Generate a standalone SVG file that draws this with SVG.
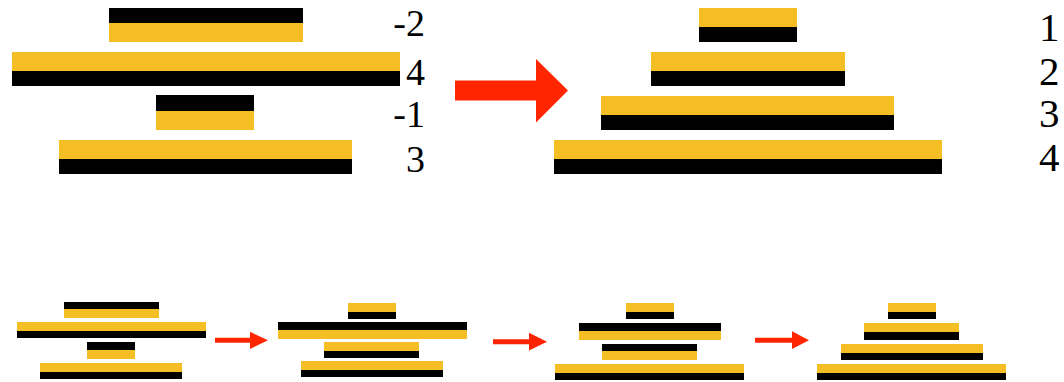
<svg xmlns="http://www.w3.org/2000/svg" width="1064" height="382" viewBox="0 0 1064 382">
  <style>
    .y { fill: #f5be24; }
    .k { fill: #000000; }
    .arrow { fill: #ff2500; }
    .l-left { font-size: 38px; text-anchor: end; }
    .l-right { font-size: 41px; text-anchor: start; }
  </style>

  <!-- Large stack: unsorted pancakes with their values -->
  <g id="stack-unsorted">
    <g id="u-bar1"><rect class="k" x="109" y="8" width="194" height="15"/><rect class="y" x="109" y="23" width="194" height="19"/></g>
    <g id="u-bar2"><rect class="y" x="12" y="52" width="388" height="19"/><rect class="k" x="12" y="71" width="388" height="15"/></g>
    <g id="u-bar3"><rect class="k" x="156" y="95" width="98" height="16"/><rect class="y" x="156" y="111" width="98" height="19"/></g>
    <g id="u-bar4"><rect class="y" x="59" y="140" width="293" height="19"/><rect class="k" x="59" y="159" width="293" height="15"/></g>
    <g font-family="Liberation Serif, Times New Roman, serif" fill="#000000">
      <text class="l-left" x="425" y="36">-2</text>
      <text class="l-left" x="425" y="85">4</text>
      <text class="l-left" x="425" y="127">-1</text>
      <text class="l-left" x="425" y="172">3</text>
    </g>
  </g>

  <!-- Large stack: sorted pancakes, all burnt side down -->
  <g id="stack-sorted">
    <g id="s-bar1"><rect class="y" x="699" y="8" width="98" height="19"/><rect class="k" x="699" y="27" width="98" height="15"/></g>
    <g id="s-bar2"><rect class="y" x="651" y="52" width="194" height="19"/><rect class="k" x="651" y="71" width="194" height="15"/></g>
    <g id="s-bar3"><rect class="y" x="601" y="96" width="293" height="19"/><rect class="k" x="601" y="115" width="293" height="15"/></g>
    <g id="s-bar4"><rect class="y" x="554" y="140" width="388" height="19"/><rect class="k" x="554" y="159" width="388" height="15"/></g>
    <g font-family="Liberation Serif, Times New Roman, serif" fill="#000000">
      <text class="l-right" x="1039" y="41">1</text>
      <text class="l-right" x="1039" y="85">2</text>
      <text class="l-right" x="1039" y="127">3</text>
      <text class="l-right" x="1039" y="171">4</text>
    </g>
  </g>

  <!-- Small flip sequence -->
  <g id="step1">
    <g id="a-bar1"><rect class="k" x="64" y="302" width="95" height="7"/><rect class="y" x="64" y="309" width="95" height="9"/></g>
    <g id="a-bar2"><rect class="y" x="17" y="322" width="189" height="9"/><rect class="k" x="17" y="331" width="189" height="7"/></g>
    <g id="a-bar3"><rect class="k" x="87" y="342" width="48" height="8"/><rect class="y" x="87" y="350" width="48" height="9"/></g>
    <g id="a-bar4"><rect class="y" x="40" y="363" width="142" height="9"/><rect class="k" x="40" y="372" width="142" height="7"/></g>
  </g>
  <g id="step2">
    <g id="b-bar1"><rect class="y" x="348" y="303" width="48" height="9"/><rect class="k" x="348" y="312" width="48" height="7"/></g>
    <g id="b-bar2"><rect class="k" x="278" y="322" width="189" height="8"/><rect class="y" x="278" y="330" width="189" height="9"/></g>
    <g id="b-bar3"><rect class="y" x="324" y="342" width="95" height="9"/><rect class="k" x="324" y="351" width="95" height="7"/></g>
    <g id="b-bar4"><rect class="y" x="301" y="361" width="142" height="9"/><rect class="k" x="301" y="370" width="142" height="7"/></g>
  </g>
  <g id="step3">
    <g id="c-bar1"><rect class="y" x="626" y="303" width="48" height="9"/><rect class="k" x="626" y="312" width="48" height="7"/></g>
    <g id="c-bar2"><rect class="k" x="579" y="323" width="142" height="8"/><rect class="y" x="579" y="331" width="142" height="9"/></g>
    <g id="c-bar3"><rect class="k" x="602" y="344" width="95" height="7"/><rect class="y" x="602" y="351" width="95" height="9"/></g>
    <g id="c-bar4"><rect class="y" x="555" y="364" width="189" height="9"/><rect class="k" x="555" y="373" width="189" height="7"/></g>
  </g>
  <g id="step4">
    <g id="d-bar1"><rect class="y" x="888" y="303" width="48" height="9"/><rect class="k" x="888" y="312" width="48" height="7"/></g>
    <g id="d-bar2"><rect class="y" x="864" y="323" width="95" height="9"/><rect class="k" x="864" y="332" width="95" height="8"/></g>
    <g id="d-bar3"><rect class="y" x="841" y="344" width="142" height="9"/><rect class="k" x="841" y="353" width="142" height="7"/></g>
    <g id="d-bar4"><rect class="y" x="817" y="364" width="189" height="9"/><rect class="k" x="817" y="373" width="189" height="7"/></g>
  </g>

  <!-- Block arrows between stacks -->
  <g id="connectors">
    <polygon class="arrow" points="455,80.5 536,80.5 536,59 568,90.5 536,122.5 536,100.5 455,100.5"/>
    <polygon class="arrow" points="215,337.8 250,337.8 250,331.8 268,340.3 250,349 250,342.8 215,342.8"/>
    <polygon class="arrow" points="493,339.3 529,339.3 529,332.8 547,341.7 529,350.6 529,344.3 493,344.3"/>
    <polygon class="arrow" points="755,337.7 792,337.7 792,331.2 809,340.2 792,349 792,342.7 755,342.7"/>
  </g>
</svg>
